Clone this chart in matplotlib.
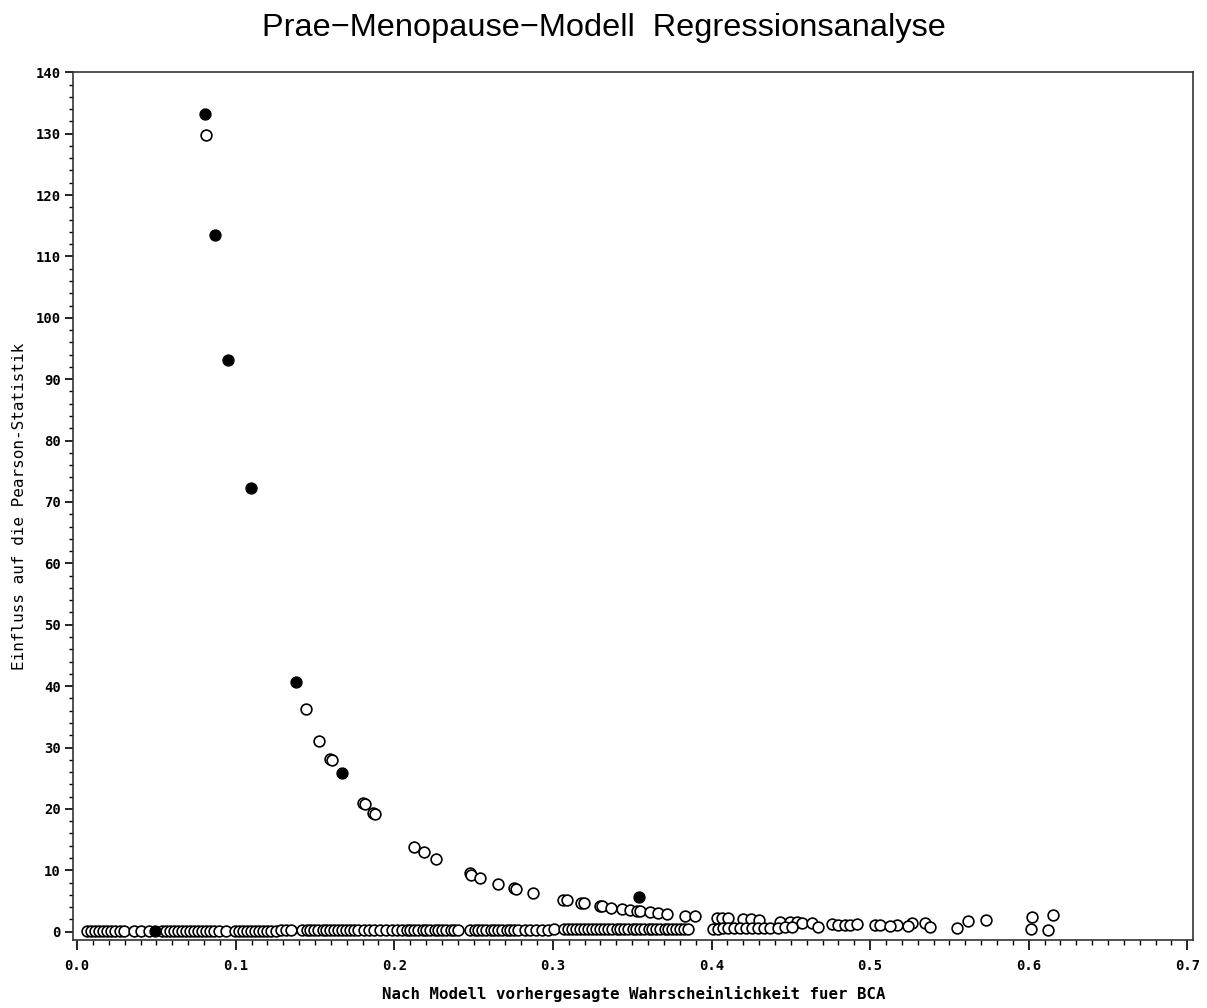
import numpy as np
import matplotlib
matplotlib.use("Agg")
import matplotlib.pyplot as plt
from matplotlib.ticker import MultipleLocator

# upper curve (open circles)
curve_p = [0.0813, 0.1444, 0.1527, 0.1592, 0.1610, 0.1805, 0.1813, 0.1868, 0.1878,
           0.2124, 0.2187, 0.2263, 0.2475, 0.2485, 0.2540, 0.2652, 0.2755, 0.2765,
           0.2876, 0.3064, 0.3087, 0.3180, 0.3195, 0.3300, 0.3310, 0.3364, 0.3434,
           0.3486, 0.3528, 0.3552, 0.3612, 0.3663, 0.3718, 0.3833, 0.3896, 0.4033,
           0.4066, 0.4106, 0.4200, 0.4252, 0.4301, 0.4430, 0.4495, 0.4540, 0.4569,
           0.4632, 0.4758, 0.4798, 0.4842, 0.4874, 0.4916, 0.5031, 0.5063, 0.5168,
           0.5262, 0.5346, 0.5619, 0.5731, 0.6019, 0.6151]
curve_infl = [129.8, 36.3, 31.1, 28.2, 28.0, 21.0, 20.8, 19.4, 19.2,
              13.8, 13.0, 11.8, 9.5, 9.3, 8.7, 7.7, 7.1, 7.0,
              6.25, 5.2, 5.15, 4.7, 4.6, 4.2, 4.15, 3.9, 3.7,
              3.55, 3.4, 3.3, 3.15, 3.05, 2.9, 2.6, 2.5, 2.3,
              2.2, 2.15, 2.0, 2.05, 1.95, 1.6, 1.65, 1.55, 1.45,
              1.35, 1.25, 1.1, 1.15, 1.05, 1.2, 1.1, 1.05, 1.1,
              1.45, 1.45, 1.75, 1.9, 2.45, 2.75]

# lower row (open circles)
low_p = [0.0062, 0.0090, 0.0113, 0.0141, 0.0164, 0.0186, 0.0214, 0.0242, 0.0271, 0.0296,
         0.0359, 0.0403, 0.0454, 0.0536, 0.0558, 0.0586, 0.0614, 0.0637, 0.0660, 0.0687,
         0.0715, 0.0737, 0.0761, 0.0788, 0.0816, 0.0838, 0.0866, 0.0895, 0.0939, 0.0996,
         0.1021, 0.1049, 0.1072, 0.1095, 0.1122, 0.1150, 0.1173, 0.1196, 0.1223, 0.1255,
         0.1286, 0.1318, 0.1349, 0.1419, 0.1447, 0.1469, 0.1492, 0.1520, 0.1548, 0.1570,
         0.1593, 0.1620, 0.1648, 0.1671, 0.1694, 0.1721, 0.1749, 0.1772, 0.1809, 0.1841,
         0.1873, 0.1910, 0.1948, 0.1986, 0.2018, 0.2049, 0.2077, 0.2100, 0.2122, 0.2150,
         0.2178, 0.2200, 0.2226, 0.2254, 0.2276, 0.2299, 0.2327, 0.2355, 0.2377, 0.2402,
         0.2478, 0.2506, 0.2528, 0.2551, 0.2579, 0.2607, 0.2629, 0.2652, 0.2680, 0.2708,
         0.2730, 0.2753, 0.2780, 0.2825, 0.2856, 0.2894, 0.2932, 0.2970, 0.3007, 0.3070,
         0.3098, 0.3121, 0.3144, 0.3171, 0.3199, 0.3222, 0.3245, 0.3272, 0.3300, 0.3323,
         0.3346, 0.3373, 0.3401, 0.3423, 0.3447, 0.3474, 0.3502, 0.3524, 0.3547, 0.3575,
         0.3603, 0.3625, 0.3648, 0.3676, 0.3704, 0.3726, 0.3749, 0.3776, 0.3804, 0.3827,
         0.3852, 0.4010, 0.4041, 0.4073, 0.4104, 0.4142, 0.4180, 0.4218, 0.4256, 0.4294,
         0.4331, 0.4369, 0.4419, 0.4463, 0.4508, 0.4673, 0.5126, 0.5241, 0.5378, 0.5546,
         0.6013, 0.6124]
low_infl = [0.05, 0.05, 0.06, 0.06, 0.07, 0.07, 0.08, 0.08, 0.09, 0.09,
            0.10, 0.10, 0.11, 0.12, 0.12, 0.12, 0.13, 0.13, 0.13, 0.14,
            0.14, 0.14, 0.15, 0.15, 0.15, 0.15, 0.16, 0.16, 0.16, 0.17,
            0.17, 0.17, 0.18, 0.18, 0.18, 0.18, 0.19, 0.19, 0.19, 0.19,
            0.20, 0.20, 0.20, 0.21, 0.21, 0.21, 0.21, 0.22, 0.22, 0.22,
            0.22, 0.23, 0.23, 0.23, 0.23, 0.24, 0.24, 0.24, 0.25, 0.25,
            0.25, 0.26, 0.26, 0.26, 0.27, 0.27, 0.27, 0.27, 0.28, 0.28,
            0.28, 0.28, 0.29, 0.29, 0.29, 0.29, 0.30, 0.30, 0.30, 0.30,
            0.31, 0.31, 0.31, 0.31, 0.32, 0.32, 0.32, 0.32, 0.33, 0.33,
            0.33, 0.33, 0.34, 0.34, 0.34, 0.35, 0.35, 0.35, 0.36, 0.36,
            0.36, 0.37, 0.37, 0.37, 0.37, 0.38, 0.38, 0.38, 0.38, 0.39,
            0.39, 0.39, 0.39, 0.40, 0.40, 0.40, 0.40, 0.41, 0.41, 0.41,
            0.41, 0.42, 0.42, 0.42, 0.42, 0.43, 0.43, 0.43, 0.43, 0.44,
            0.44, 0.50, 0.51, 0.52, 0.52, 0.53, 0.54, 0.55, 0.55, 0.56,
            0.57, 0.58, 0.60, 0.81, 0.70, 0.72, 0.98, 0.98, 0.72, 0.55,
            0.44, 0.28]

# flagged points (filled)
flag_p = [0.0806, 0.0869, 0.0950, 0.1097, 0.1380, 0.1668, 0.3543, 0.0492]
flag_infl = [133.2, 113.5, 93.2, 72.2, 40.7, 25.9, 5.6, 0.12]

mono = "DejaVu Sans Mono"

fig = plt.figure(figsize=(12.07, 10.08), dpi=100)
ax = fig.add_axes([0.0607, 0.0675, 0.928, 0.8611])

ax.scatter(curve_p, curve_infl, s=60, facecolors="white", edgecolors="black", linewidths=1.2, zorder=3)
ax.scatter(low_p, low_infl, s=60, facecolors="white", edgecolors="black", linewidths=1.2, zorder=3)
ax.scatter(flag_p, flag_infl, s=62, facecolors="black", edgecolors="black", linewidths=1.0, zorder=4)

ax.set_xlim(-0.0024, 0.7038)
ax.set_ylim(-1.35, 140.05)

ax.xaxis.set_minor_locator(MultipleLocator(0.01))
ax.yaxis.set_minor_locator(MultipleLocator(2))
ax.set_xticks(np.arange(0, 0.71, 0.1))
ax.set_xticklabels(["%.1f" % v for v in np.arange(0, 0.71, 0.1)])
ax.set_yticks(np.arange(0, 141, 10))
ax.set_yticklabels([str(v) for v in range(0, 141, 10)])

ax.tick_params(axis="x", which="major", length=7, width=1.2, pad=7, direction="out")
ax.tick_params(axis="x", which="minor", length=3.5, width=1.0, direction="out")
ax.tick_params(axis="y", which="major", length=6, width=1.2, pad=3, direction="out")
ax.tick_params(axis="y", which="minor", length=3, width=1.0, direction="out")
for lab in ax.get_xticklabels() + ax.get_yticklabels():
    lab.set_fontfamily(mono)
    lab.set_fontweight("bold")
    lab.set_fontsize(10)

for sp in ax.spines.values():
    sp.set_linewidth(1.2)
    sp.set_color("#333333")

ax.set_xlabel("Nach Modell vorhergesagte Wahrscheinlichkeit fuer BCA",
              fontfamily=mono, fontweight="bold", fontsize=11.3, labelpad=9)
ax.set_ylabel("Einfluss auf die Pearson-Statistik",
              fontfamily=mono, fontsize=11.5, labelpad=6)

fig.text(0.5, 0.972, "Prae\u2212Menopause\u2212Modell  Regressionsanalyse",
         ha="center", va="center", fontfamily="Liberation Sans", fontsize=23.4)

fig.savefig("out.png", dpi=100, facecolor="white")
